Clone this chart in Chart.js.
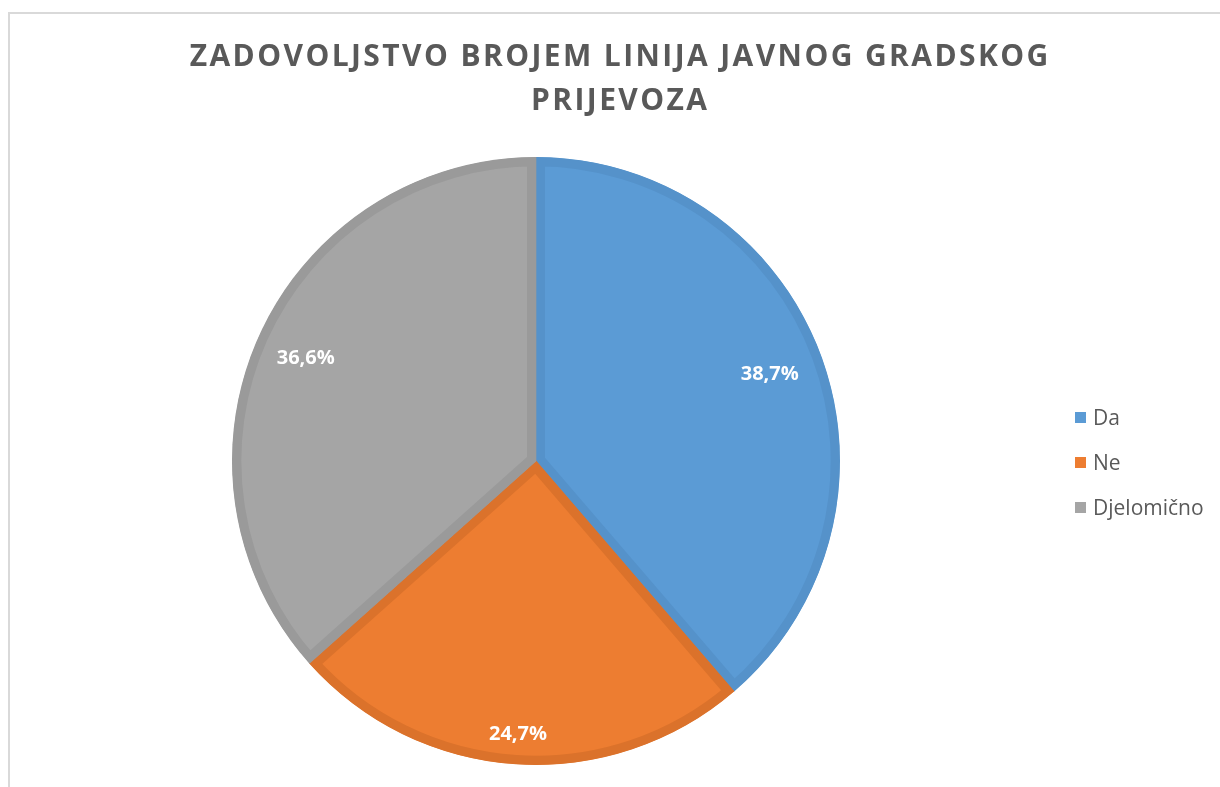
<!DOCTYPE html>
<html lang="hr">
<head>
  <meta charset="UTF-8" />
  <title>Zadovoljstvo brojem linija</title>
  <script src="https://cdn.jsdelivr.net/npm/chart.js"></script>
  <style>
    html, body { margin: 0; padding: 0; background: #fff; overflow: hidden; }
    .frame {
      position: absolute; left: 8px; top: 12px;
      width: 1222px; height: 800px;
      border-left: 2px solid #d9d9d9; border-top: 2px solid #d9d9d9;
    }
    .frame canvas { position: absolute; left: 0; top: 0; }
    .legend {
      position: absolute; left: 1075px; top: 394px;
      font-family: "Open Sans", sans-serif; font-size: 21px; color: #595959;
    }
    .legend div { height: 45px; display: flex; align-items: center; }
    .legend span.box { width: 11px; height: 11px; margin: 1px 7px 0 0; }
  </style>
</head>
<body>
  <div class="frame">
    <canvas id="pie" width="1222" height="775"></canvas>
  </div>
  <div class="legend" id="legend"></div>

  <script>
    // podaci
    const labels = ['Da', 'Ne', 'Djelomično'];
    const values = [38.7, 24.7, 36.6];
    const titleLines = ['ZADOVOLJSTVO BROJEM LINIJA JAVNOG GRADSKOG', 'PRIJEVOZA'];
    const fillColors = ['#5b9bd5', '#ed7d31', '#a5a5a5'];
    const borderColors = ['#5592ca', '#db722b', '#9a9a9a'];
    // udaljenost oznake od središta (dio polumjera)
    const labelRadius = [0.82, 0.9, 0.83];

    // naslov s razmakom slova
    const spacedTitle = {
      id: 'spacedTitle',
      afterDraw(chart) {
        const ctx = chart.ctx;
        ctx.save();
        ctx.fillStyle = '#595959';
        ctx.font = 'bold 30px "Open Sans"';
        ctx.letterSpacing = '2.4px';
        ctx.textAlign = 'left';
        ctx.textBaseline = 'middle';
        titleLines.forEach((line, i) => {
          const w = ctx.measureText(line).width - 2.4;
          ctx.fillText(line, 609 - w / 2, 43 + i * 44);
        });
        ctx.restore();
      }
    };

    // oznake postotaka unutar isječaka
    const pctLabels = {
      id: 'pctLabels',
      afterDatasetsDraw(chart) {
        const ctx = chart.ctx;
        const meta = chart.getDatasetMeta(0);
        ctx.save();
        ctx.fillStyle = '#ffffff';
        ctx.font = 'bold 20px "Open Sans"';
        ctx.textAlign = 'center';
        ctx.textBaseline = 'middle';
        meta.data.forEach((arc, i) => {
          const mid = (arc.startAngle + arc.endAngle) / 2;
          const r = arc.outerRadius * labelRadius[i];
          const x = arc.x + Math.cos(mid) * r;
          const y = arc.y + Math.sin(mid) * r;
          ctx.fillText(values[i].toFixed(1).replace('.', ',') + '%', x, y);
        });
        ctx.restore();
      }
    };

    new Chart(document.getElementById('pie'), {
      type: 'pie',
      data: {
        labels: labels,
        datasets: [{
          data: values,
          backgroundColor: fillColors,
          borderColor: borderColors,
          borderWidth: 9,
          borderAlign: 'inner',
          borderJoinStyle: 'miter'
        }]
      },
      options: {
        responsive: false,
        animation: false,
        layout: { padding: { top: 143, right: 170, bottom: 24, left: 0 } },
        plugins: {
          legend: { display: false },
          tooltip: { enabled: false },
          title: { display: false }
        }
      },
      plugins: [pctLabels, spacedTitle]
    });

    // legenda
    const legend = document.getElementById('legend');
    labels.forEach((l, i) => {
      const row = document.createElement('div');
      row.innerHTML = `<span class="box" style="background:${fillColors[i]}"></span>${l}`;
      legend.appendChild(row);
    });
  </script>
</body>
</html>
